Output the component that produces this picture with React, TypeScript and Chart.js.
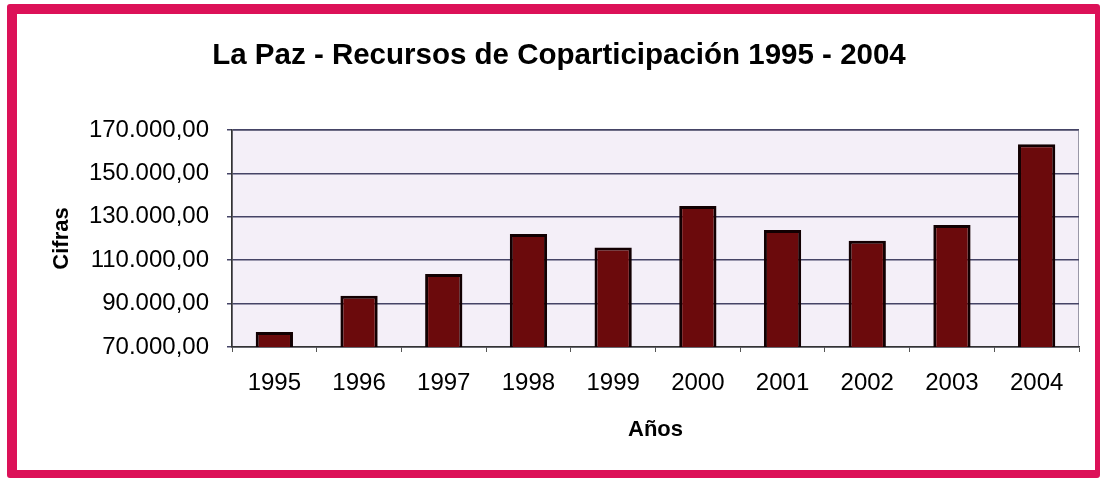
import React, { useEffect, useRef } from "react";
import { Chart, registerables } from "chart.js";

Chart.register(...registerables);

const TITLE = "La Paz - Recursos de Coparticipación 1995 - 2004";
const X_TITLE = "Años";
const Y_TITLE = "Cifras";
const years = ["1995", "1996", "1997", "1998", "1999", "2000", "2001", "2002", "2003", "2004"];
const recursos = [76900, 93600, 103600, 122100, 115800, 135000, 123900, 119000, 126200, 163400];
const yMin = 70000;
const yMax = 170000;
const yStep = 20000;

function formatEs(v: number): string {
  const s = Math.round(v).toString();
  const withDots = s.replace(/\B(?=(\d{3})+(?!\d))/g, ".");
  return withDots + ",00";
}

const plotBg = {
  id: "plotBg",
  beforeDraw(chart: any) {
    const { ctx, chartArea } = chart;
    if (!chartArea) return;
    ctx.save();
    ctx.fillStyle = "#f4eff8";
    ctx.fillRect(chartArea.left, chartArea.top, chartArea.right - chartArea.left, chartArea.bottom - chartArea.top);
    ctx.strokeStyle = "#9a98a8";
    ctx.lineWidth = 1;
    ctx.strokeRect(chartArea.left + 0.5, chartArea.top + 0.5, chartArea.right - chartArea.left - 1, chartArea.bottom - chartArea.top - 1);
    ctx.restore();
  },
};

export default function App() {
  const ref = useRef<HTMLCanvasElement | null>(null);

  useEffect(() => {
    document.body.style.margin = "0";
    const canvas = ref.current;
    if (!canvas) return;
    const font = "'Liberation Sans', Arial, sans-serif";
    const chart = new Chart(canvas, {
      type: "bar",
      data: {
        labels: years,
        datasets: [
          {
            label: "Recursos",
            data: recursos,
            backgroundColor: "#6b0a0c",
            borderColor: "#120002",
            borderWidth: 3,
            borderSkipped: false,
            categoryPercentage: 1,
            barPercentage: 0.44,
          },
        ],
      },
      options: {
        responsive: false,
        animation: false,
        layout: { padding: { top: 38, left: 39, right: 21, bottom: 35 } },
        plugins: {
          legend: { display: false },
          tooltip: { enabled: false },
          title: {
            display: true,
            text: TITLE,
            color: "#000",
            font: { family: font, size: 29.5, weight: "bold" },
            padding: { top: 0, bottom: 56.6 },
          },
        },
        scales: {
          x: {
            offset: true,
            grid: {
              display: true,
              drawOnChartArea: false,
              drawTicks: true,
              tickLength: 5,
              color: "#555",
              offset: true,
            },
            border: { display: true, color: "#333", width: 1.5 },
            ticks: {
              color: "#000",
              font: { family: font, size: 24 },
              padding: 17,
              maxRotation: 0,
            },
            title: {
              display: true,
              text: X_TITLE,
              color: "#000",
              font: { family: font, size: 22, weight: "bold" },
              padding: 0,
            },
            afterFit(scale: any) {
              scale.height = 96;
            },
          },
          y: {
            min: yMin,
            max: yMax,
            grid: {
              color: "#454466",
              lineWidth: 1.5,
              drawTicks: true,
              tickLength: 5,
            },
            border: { display: true, color: "#333", width: 1.5 },
            ticks: {
              stepSize: yStep,
              color: "#000",
              font: { family: font, size: 24 },
              padding: 18,
              callback: (v: any) => formatEs(Number(v)),
            },
            title: {
              display: true,
              text: Y_TITLE,
              color: "#000",
              font: { family: font, size: 22, weight: "bold" },
              padding: { top: 10, bottom: 0 },
            },
            afterFit(scale: any) {
              scale.width = 193;
            },
          },
        },
      },
      plugins: [plotBg],
    });
    return () => chart.destroy();
  }, []);

  return (
    <div style={{ position: "fixed", left: 0, top: 0, width: 1100, height: 478, background: "#ffffff", overflow: "hidden" }}>
      <div
        style={{
          position: "absolute",
          left: 7,
          top: 4,
          width: 1100 - 7 - 10 - 5,
          height: 478 - 4 - 10 - 8,
          borderStyle: "solid",
          borderColor: "#dc1158",
          borderWidth: "10px 5px 8px 10px",
          borderRadius: 3,
          background: "#ffffff",
        }}
      />
      <canvas ref={ref} width={1100} height={478} style={{ position: "absolute", left: 0, top: 0 }} />
    </div>
  );
}
